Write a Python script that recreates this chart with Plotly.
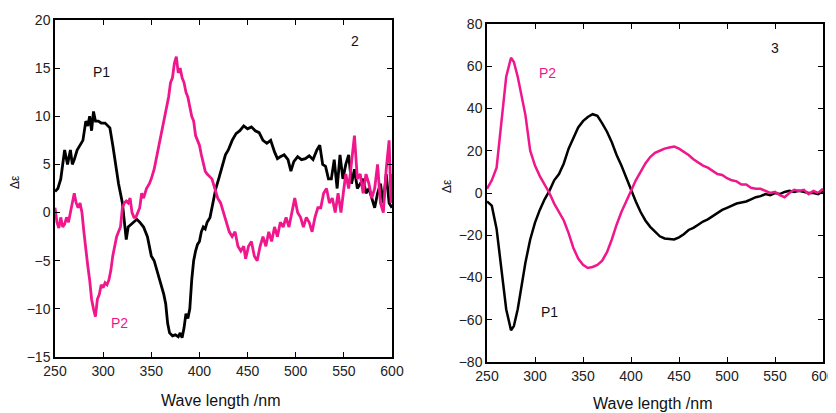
import plotly.graph_objects as go

# ---------------- Panel 2 (left) ----------------
wl2_p1 = [250,253,256,260,263,266,268,270,273,276,279,282,284,286,288,290,292,295,298,302,305,307,310,313,316,320,322,324,326,328,331,335,338,342,346,350,353,356,360,363,365,367,369,372,375,378,380,382,384,386,388,390,392,394,396,398,400,402,404,406,408,411,414,417,420,424,427,430,434,438,442,446,450,454,458,462,466,470,474,478,481,484,488,492,495,498,502,506,510,514,518,522,525,528,531,534,537,540,543,546,549,552,555,558,561,564,567,570,573,576,579,582,585,588,591,594,597,600]
p1_2 = [2.2,2.5,3.5,6.5,5,6.5,5,5.5,6.5,7,7.5,9.5,9,10,8.5,10.5,9.5,9.5,9.3,9.3,9,8.8,7,5,3,1,-1,-2.8,-1.5,-1.3,-1,-0.7,-1,-1.5,-2.5,-4.5,-5,-6,-7.5,-8.5,-9.5,-11.5,-12.5,-12.8,-12.7,-12.9,-12.5,-13,-12,-10.5,-11,-10,-7,-5,-4,-3.3,-3,-2,-1.5,-1.7,-1,-0.5,1,2.5,3.5,5,6,6.5,7.5,8.2,8.5,9,8.7,8.9,8.5,8.3,7.5,7.2,7.5,6.3,5.6,5.8,6,5.5,4.3,5.3,5.8,5.5,5.6,5.9,5.5,6.5,7,5,4.8,3.5,3.5,5.5,2.5,6,3.5,5,6,3,4.5,2.5,3,3.5,2,2.5,1.5,0.5,2,3,1,4,1,0.5]

wl2_p2 = [250,252,254,256,258,260,262,264,266,268,270,272,274,276,278,280,282,284,286,288,290,292,294,296,298,300,302,304,306,308,310,312,314,316,318,320,322,324,326,328,330,332,334,336,338,340,342,345,348,350,353,356,359,362,365,368,370,372,374,376,378,380,382,384,386,388,390,392,394,396,398,400,402,404,406,408,410,413,416,419,422,425,428,431,434,437,440,443,446,448,451,454,457,460,463,466,469,472,475,478,481,484,487,490,493,496,499,502,505,508,511,514,517,520,523,526,529,532,535,538,541,544,547,550,552,555,558,561,564,567,570,573,576,579,582,585,588,591,594,597,599,600]
p2_2 = [0.5,-1,-1.6,-0.5,-1.5,-1.2,-0.5,-1,0,1,2,1,0.5,1,0,-2,-4,-5.5,-7,-9,-10,-10.8,-9,-8.5,-7.5,-7.8,-7.3,-7.5,-7,-6,-4.5,-3.5,-2.5,-2,-1.5,0.5,1,1.2,1,1.5,0,-0.5,-0.5,0,0.5,2,1.5,2.5,3,3.5,4.5,6,7.5,9,10.5,12,13.5,14,15.5,16.2,14.5,15,14,13.5,12.5,12,11,10,9.5,8,7.5,7,6,5,4.3,4,3.8,3.5,2.5,1.5,1,0,-1,-2,-2.5,-2,-3.5,-4,-3.5,-4.8,-3.5,-3,-4.5,-5,-3.5,-2.5,-3.5,-2,-3,-1.5,-2.5,-1,-1.5,-0.5,-1.5,0,1.5,0,-0.5,-1.5,-0.5,-1,-2,-0.5,0.5,0.5,2,2.5,1,1.5,0,2,0,2.5,4,2.5,5,8,3.5,4,2,4,3,1.5,2.5,5,1,0,4.5,7.5,1,4]

# ---------------- Panel 3 (right) ----------------
wl3 = [250,255,260,265,270,275,278,282,286,290,295,300,305,310,315,320,325,330,335,340,345,350,355,360,365,370,375,380,385,390,395,400,405,410,415,420,425,430,435,440,445,450,455,460,465,470,475,480,485,490,495,500,505,510,515,520,525,530,535,540,545,550,555,560,565,570,575,580,585,590,595,600]
p1_3 = [-4,-6,-17,-35,-55,-65,-63,-55,-44,-33,-22,-14,-8,-3,1,6,9,14,21,26,31,34,36,37.3,36.5,33,29,24,18,13,7,1,-4,-9,-13,-16,-18.5,-20.5,-21.5,-21.7,-22,-21,-19.5,-17.5,-16.5,-15,-13.5,-12.5,-11,-9.5,-8,-7,-6,-5,-4.5,-4,-3,-2,-1.5,-0.5,-1,0,-0.5,0.5,1,0.5,1,0.5,0,0,-0.5,1]
p2_3 = [2,6,12,35,55,64,62,55,46,37,20,13,8,4,0,-5,-9,-13,-19,-26,-31,-34,-35.5,-35,-34,-32,-28,-22,-15,-9,-4,1,6,10,14,17,19,20,21,21.5,22,21,19.5,18,16,14.5,13,12,10.5,9,8.5,7,6,5.5,4,4,2.5,2,2,1,0,0.5,-1,-2,0,1.5,1,1.5,-0.5,1,0,2]

x_ticks = [250, 300, 350, 400, 450, 500, 550, 600]
y_ticks2 = [-15, -10, -5, 0, 5, 10, 15, 20]
y_ticks3 = [-80, -60, -40, -20, 0, 20, 40, 60, 80]

BLACK = "#000000"
PINK = "#F0168C"
FONT = "Liberation Sans, Arial, sans-serif"
OFF = 8                      # page body margin of the exported html
W, H = 836 - OFF, 413 - OFF

fig = go.Figure()
fig.add_trace(go.Scatter(x=wl2_p1, y=p1_2, mode="lines", line=dict(color=BLACK, width=2.8),
                         xaxis="x", yaxis="y", showlegend=False))
fig.add_trace(go.Scatter(x=wl2_p2, y=p2_2, mode="lines", line=dict(color=PINK, width=2.8),
                         xaxis="x", yaxis="y", showlegend=False))
fig.add_trace(go.Scatter(x=wl3, y=p1_3, mode="lines", line=dict(color=BLACK, width=2.5),
                         xaxis="x2", yaxis="y2", showlegend=False))
fig.add_trace(go.Scatter(x=wl3, y=p2_3, mode="lines", line=dict(color=PINK, width=2.5),
                         xaxis="x2", yaxis="y2", showlegend=False))

axis_common = dict(showline=True, linecolor="#000", linewidth=1.5, mirror="ticks",
                   ticks="inside", ticklen=5, tickcolor="#000", tickwidth=1,
                   showgrid=False, zeroline=False, automargin=False,
                   tickfont=dict(family=FONT, size=14, color="#222"))

def px_x(p):
    return (p - OFF) / W

def px_y(p):
    return 1 - (p - OFF) / H

fig.update_layout(
    template="none",
    width=W, height=H,
    margin=dict(l=0, r=0, t=0, b=0, pad=0),
    paper_bgcolor="white", plot_bgcolor="white",
    font=dict(family=FONT, size=14, color="#222"),
    xaxis=dict(domain=[px_x(55), px_x(392)], range=[250, 600], tickvals=x_ticks,
               anchor="y", **axis_common),
    yaxis=dict(domain=[px_y(357), px_y(20)], range=[-15, 20], tickvals=y_ticks2,
               anchor="x", **axis_common),
    xaxis2=dict(domain=[px_x(487), px_x(823)], range=[250, 600], tickvals=x_ticks,
                anchor="y2", **axis_common),
    yaxis2=dict(domain=[px_y(362), px_y(24)], range=[-80, 80], tickvals=y_ticks3,
                anchor="x2", **axis_common),
)

def ann(text, x, y, color="#111", size=14, angle=0):
    fig.add_annotation(text=text, x=px_x(x), y=px_y(y), xref="paper", yref="paper",
                       showarrow=False, textangle=angle,
                       font=dict(family=FONT, size=size, color=color),
                       xanchor="center", yanchor="middle")

# panel labels and series labels
ann("2", 355, 41)
ann("P1", 101, 72)
ann("P2", 120, 323, color=PINK)
ann("3", 775, 48)
ann("P2", 547, 73, color=PINK)
ann("P1", 549, 312)
# axis titles
ann("Wave length /nm", 221, 400, size=16)
ann("Wave length /nm", 652, 403, size=16)
ann("Δε", 15, 182, size=12, angle=-90)
ann("Δε", 447, 186, size=12, angle=-90)

fig.write_html("out.html")
